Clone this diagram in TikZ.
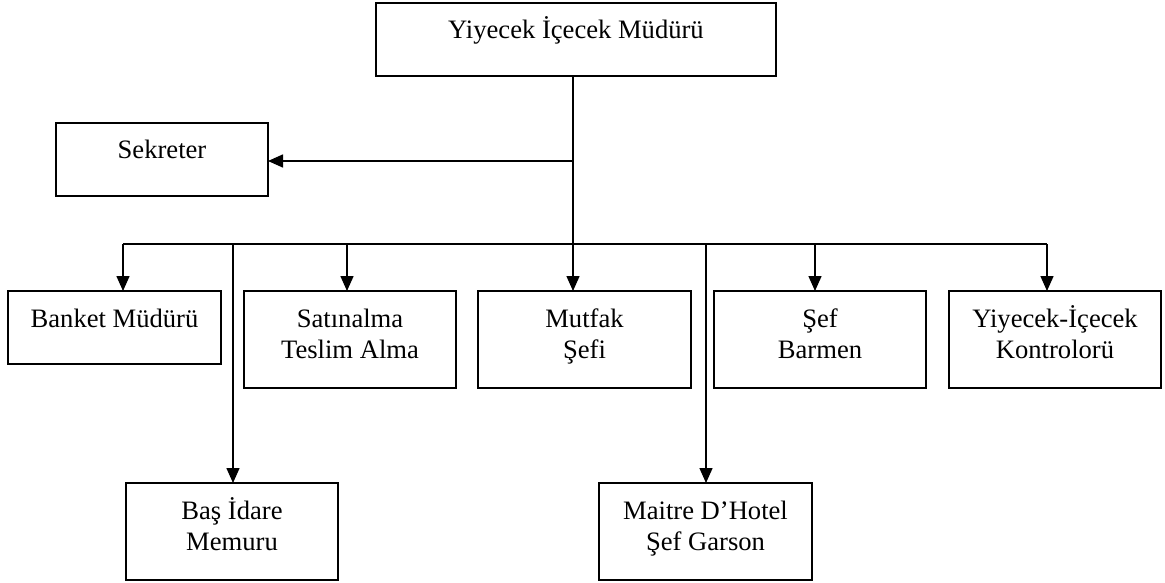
\documentclass[tikz,border=0pt]{standalone}
\usepackage{fontspec}
\setmainfont{Liberation Serif}
\usetikzlibrary{arrows.meta}
\begin{document}
\begin{tikzpicture}[x=1pt,y=-1pt,
  box/.style={draw,line width=1.6pt,anchor=north west,inner sep=0pt,outer sep=0pt},
  boxtext/.style={anchor=base,align=center,inner sep=0pt,font=\fontsize{26.6}{31}\selectfont},
  link/.style={line width=1.5pt},
  arr/.style={line width=1.5pt,-{Triangle[length=15pt,width=13pt]}}]
\useasboundingbox (0,0) rectangle (1165,583);

% boxes: top-left corner, size
\node[box,minimum width=400pt,minimum height=73pt] (top)    at (376,3)   {};
\node[box,minimum width=212pt,minimum height=73pt] (sek)    at (56,123)  {};
\node[box,minimum width=213pt,minimum height=73pt] (banket) at (8,291)   {};
\node[box,minimum width=212pt,minimum height=97pt] (satin)  at (244,291) {};
\node[box,minimum width=213pt,minimum height=97pt] (mutfak) at (478,291) {};
\node[box,minimum width=212pt,minimum height=97pt] (barmen) at (714,291) {};
\node[box,minimum width=212pt,minimum height=97pt] (kontrol) at (949,291) {};
\node[box,minimum width=212pt,minimum height=97pt] (bas)    at (126,483) {};
\node[box,minimum width=213pt,minimum height=97pt] (maitre) at (599,483) {};

% labels: the base anchor sits on the last line, which is 36pt (one line)
% or 67pt (two lines) below the box top
\node[boxtext] (ttop)     at ([yshift=-36pt]top.north)     {Yiyecek İçecek Müdürü};
\node[boxtext] (tsek)     at ([yshift=-36pt]sek.north)     {Sekreter};
\node[boxtext] (tbanket)  at ([yshift=-36pt]banket.north)  {Banket Müdürü};
\node[boxtext] (tsatin)   at ([yshift=-67pt]satin.north)   {Satınalma\\Teslim Alma};
\node[boxtext] (tmutfak)  at ([yshift=-67pt]mutfak.north)  {Mutfak\\Şefi};
\node[boxtext] (tbarmen)  at ([yshift=-67pt]barmen.north)  {Şef\\Barmen};
\node[boxtext] (tkontrol) at ([yshift=-67pt]kontrol.north) {Yiyecek-İçecek\\Kontrolorü};
\node[boxtext] (tbas)     at ([yshift=-67pt]bas.north)     {Baş İdare\\Memuru};
\node[boxtext] (tmaitre)  at ([yshift=-67pt]maitre.north)  {Maitre D’Hotel\\Şef Garson};

% junction points on the trunk and the bus
\coordinate (js) at (573,161);
\coordinate (j1) at (123,244);
\coordinate (j2) at (233,244);
\coordinate (j3) at (347,244);
\coordinate (j4) at (573,244);
\coordinate (j5) at (706,244);
\coordinate (j6) at (815,244);
\coordinate (j7) at (1047,244);

% trunk and bus
\draw[link] (top.south -| j4) -- (j4);
\draw[link] (j1) -- (j7);
\draw[arr] (js) -- (sek.east |- js);

% drops
\draw[arr] (j1) -- (banket.north -| j1);
\draw[arr] (j2) -- (bas.north -| j2);
\draw[arr] (j3) -- (satin.north -| j3);
\draw[arr] (j4) -- (mutfak.north -| j4);
\draw[arr] (j5) -- (maitre.north -| j5);
\draw[arr] (j6) -- (barmen.north -| j6);
\draw[arr] (j7) -- (kontrol.north -| j7);
\end{tikzpicture}
\end{document}
